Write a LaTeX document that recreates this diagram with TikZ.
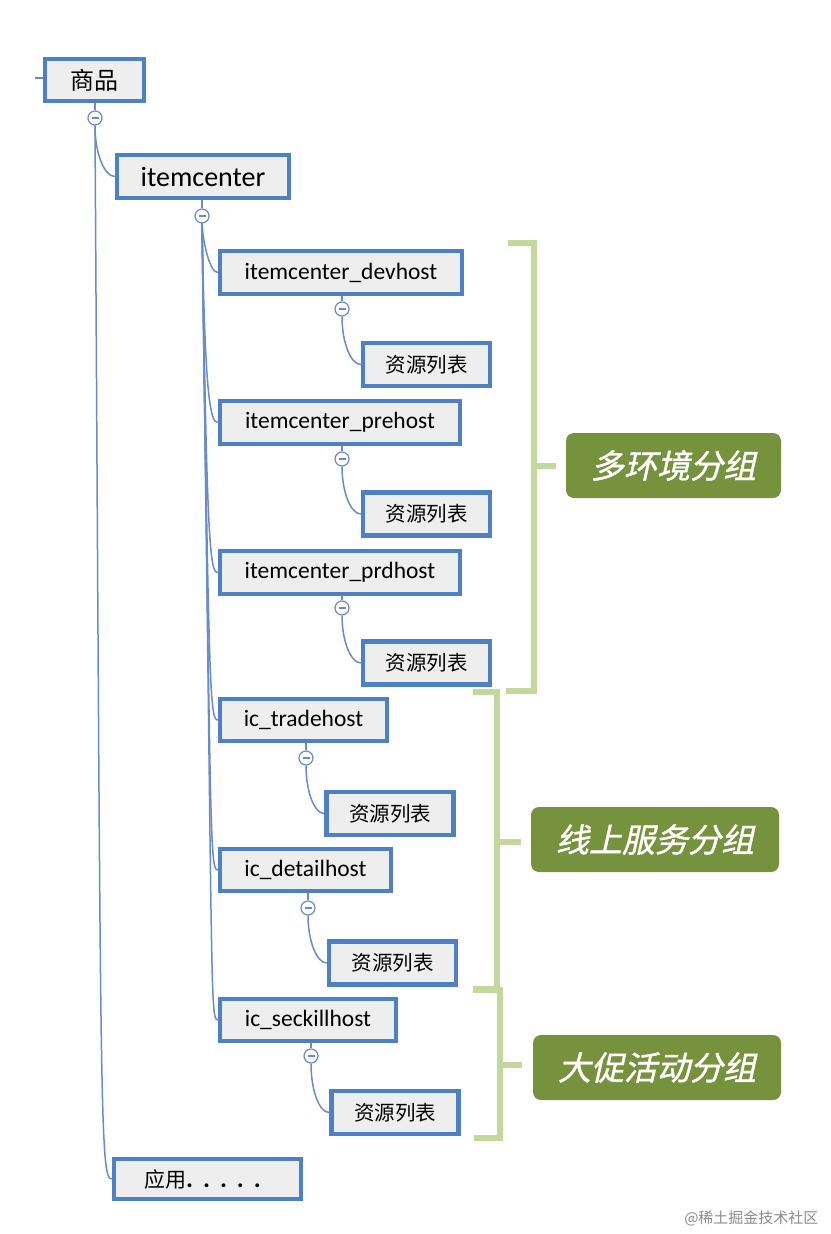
\documentclass[tikz,border=0pt]{standalone}
\usepackage{fontspec}
\setmainfont{Carlito}
\newfontfamily\cjk{Noto Sans CJK SC}
\newfontfamily\cjkslant{Noto Sans CJK SC}[FakeSlant=0.22,FakeBold=1.2]
\usetikzlibrary{calc}
\definecolor{boxblue}{HTML}{4F7FC4}
\definecolor{boxfill}{HTML}{EEEEEF}
\definecolor{edge}{HTML}{6A8CC6}
\definecolor{brk}{HTML}{C4D89E}
\definecolor{lab}{HTML}{76923C}
\tikzset{
  box/.style={draw=boxblue, line width=4.5, fill=boxfill, inner sep=0, text=black},
  host/.style={box, font=\fontsize{23.5}{27}\selectfont},
  res/.style={box, minimum width=127, minimum height=43, font=\cjk\fontsize{20.5}{24}\selectfont},
  tog/.style={circle, draw=edge, fill=white, line width=1.2, minimum size=14, inner sep=0,
    path picture={\draw[edge, line width=1.3] ([xshift=-3.5]path picture bounding box.center) -- ([xshift=3.5]path picture bounding box.center);}},
  conn/.style={draw=edge, line width=1.5},
  bracket/.style={draw=brk, line width=6},
  grp/.style={fill=lab, rounded corners=8, text=white, inner sep=0, minimum height=65, font=\cjkslant\fontsize{33}{37}\selectfont},
}
\begin{document}
\begin{tikzpicture}[x=1pt,y=-1pt]
\useasboundingbox[fill=white] (0,0) rectangle (830,1234);

% nodes
\node[box, minimum width=99, minimum height=42, font=\cjk\fontsize{24}{28}\selectfont] (root) at (94.5,80) {商品};
\node[box, minimum width=172, minimum height=43, font=\fontsize{28}{32}\selectfont] (ic) at (203,176.5) {itemcenter};
\node[host, minimum width=242, minimum height=43] (dev) at (341,272.5) {itemcenter\_devhost};
\node[res] (r1) at (426.5,364.5) {资源列表};
\node[host, minimum width=240, minimum height=43] (pre) at (340,422.5) {itemcenter\_prehost};
\node[res] (r2) at (426.5,514) {资源列表};
\node[host, minimum width=240, minimum height=43] (prd) at (340,572.5) {itemcenter\_prdhost};
\node[res] (r3) at (426.5,663) {资源列表};
\node[host, minimum width=167, minimum height=42] (trade) at (303.5,720) {ic\_tradehost};
\node[res] (r4) at (390,813.5) {资源列表};
\node[host, minimum width=171, minimum height=42] (detail) at (305.5,870) {ic\_detailhost};
\node[res] (r5) at (392.5,963) {资源列表};
\node[host, minimum width=176, minimum height=42] (seck) at (308,1020) {ic\_seckillhost};
\node[res] (r6) at (395,1112.5) {资源列表};
\node[box, minimum width=187, minimum height=40, font=\cjk\fontsize{21}{24}\selectfont] (app) at (207.5,1179) {\hspace{-10pt}应用{\fontsize{26}{26}\bfseries\rmfamily .\hspace{10pt}.\hspace{10pt}.\hspace{10pt}.\hspace{10pt}.}};

% toggles
\node[tog] (t0) at (95,118) {};
\node[tog] (t1) at (202,216) {};
\node[tog] (t2) at (342,309) {};
\node[tog] (t3) at (342,459) {};
\node[tog] (t4) at (342,608) {};
\node[tog] (t5) at (306,758) {};
\node[tog] (t6) at (308,908) {};
\node[tog] (t7) at (311,1056) {};

% incoming line to root
\coordinate (rin) at (35,78);
\draw[conn] (rin) -- (rin -| root.west);

% box to toggle stubs
\foreach \b/\t in {root/t0, ic/t1, dev/t2, pre/t3, prd/t4, trade/t5, detail/t6, seck/t7}
  \draw[conn] (\t.north |- \b.south) -- (\t.north);

% connectors: toggle to child
\foreach \t/\c in {t0/ic, t2/r1, t3/r2, t4/r3, t5/r4, t6/r5, t7/r6}
  \draw[conn] (\t.south) .. controls ($(\t.south |- \c.west)+(0,-22)$) and ($(\c.west)+(-10,0)$) .. (\c.west);
\foreach \c/\dx in {dev/1, pre/3, prd/5, trade/7, detail/9, seck/11}
  \draw[conn] (t1.south) .. controls ($(t1.south |- \c.west)+(\dx,-30)$) and ($(\c.west)+(-8,0)$) .. (\c.west);
\draw[conn] (t0.south) .. controls ($(t0.south |- app.west)+(6,-60)$) and ($(app.west)+(-12,0)$) .. (app.west);

% brackets
\draw[bracket] (508,243) -- (534,243) -- (534,691) -- (506,691);
\draw[bracket] (534,466) -- (556,466);
\draw[bracket] (473,692) -- (497,692) -- (497,989) -- (473,989);
\draw[bracket] (497,842) -- (521,842);
\draw[bracket] (473,990) -- (500,990) -- (500,1138) -- (474,1138);
\draw[bracket] (500,1065) -- (522,1065);

% group labels
\node[grp, minimum width=215] (g1) at (673.5,465.5) {多环境分组};
\node[grp, minimum width=248] (g2) at (655,839.5) {线上服务分组};
\node[grp, minimum width=248] (g3) at (657,1067.5) {大促活动分组};

% watermark
\node[text=black!45, font=\cjk\fontsize{15}{18}\selectfont, anchor=east] (wm) at (822,1218) {@稀土掘金技术社区};
\end{tikzpicture}
\end{document}
